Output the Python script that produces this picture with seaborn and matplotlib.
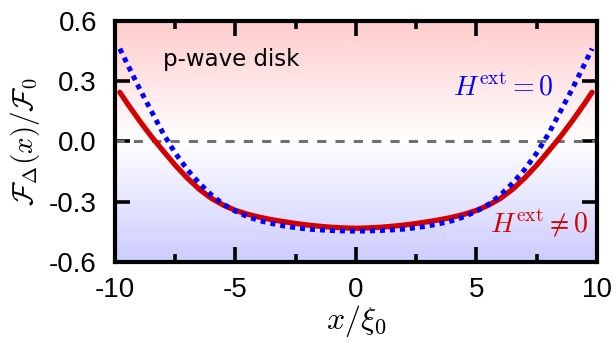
import numpy as np
import pandas as pd
import matplotlib
matplotlib.use("Agg")
import matplotlib.pyplot as plt
from matplotlib.colors import LinearSegmentedColormap
import seaborn as sns

# ---- data ----
x_vals = [-9.8, -9.5, -9.0, -8.5, -8.0, -7.5, -7.0, -6.5, -6.0, -5.5, -5.0, -4.5, -4.0, -3.5, -3.0, -2.5,
          -2.0, -1.5, -1.0, -0.5, 0.0, 0.5, 1.0, 1.5, 2.0, 2.5, 3.0, 3.5, 4.0, 4.5, 5.0, 5.5, 6.0, 6.5,
          7.0, 7.5, 8.0, 8.5, 9.0, 9.5, 9.8]
blue_vals = [0.462, 0.388, 0.267, 0.153, 0.040, -0.058, -0.140, -0.208, -0.266, -0.313, -0.347, -0.374, -0.394,
             -0.408, -0.420, -0.429, -0.436, -0.440, -0.443, -0.445, -0.446, -0.445, -0.443, -0.440, -0.436,
             -0.429, -0.420, -0.408, -0.394, -0.374, -0.347, -0.313, -0.266, -0.208, -0.140, -0.058, 0.040,
             0.153, 0.267, 0.388, 0.462]
red_vals = [0.245, 0.191, 0.106, 0.026, -0.047, -0.118, -0.182, -0.238, -0.283, -0.317, -0.343, -0.362, -0.377,
            -0.389, -0.399, -0.408, -0.416, -0.422, -0.427, -0.430, -0.432, -0.430, -0.427, -0.422, -0.416,
            -0.408, -0.399, -0.389, -0.377, -0.362, -0.343, -0.317, -0.283, -0.238, -0.182, -0.118, -0.047,
            0.026, 0.106, 0.191, 0.245]
x_ticks = [-10, -5, 0, 5, 10]
x_ticklabels = ["-10", "-5", "0", "5", "10"]
y_ticks = [-0.6, -0.3, 0.0, 0.3, 0.6]
y_ticklabels = ["-0.6", "-0.3", "0.0", "0.3", "0.6"]

df = pd.DataFrame({"x": x_vals * 2,
                   "y": blue_vals + red_vals,
                   "series": ["H0"] * len(x_vals) + ["H1"] * len(x_vals)})

sns.set_style("ticks")
plt.rcParams["font.family"] = ["Liberation Sans", "DejaVu Sans"]
plt.rcParams["mathtext.fontset"] = "cm"
plt.rcParams["text.color"] = "black"
plt.rcParams["axes.labelcolor"] = "black"
plt.rcParams["xtick.color"] = "black"
plt.rcParams["ytick.color"] = "black"
plt.rcParams["axes.edgecolor"] = "black"

fig = plt.figure(figsize=(6.16, 3.43), dpi=100)
ax = fig.add_axes([0.1867, 0.236, 0.7823, 0.703])

# background gradient
cmap = LinearSegmentedColormap.from_list("bg", [(0.80, 0.80, 1.0), (1, 1, 1), (1.0, 0.80, 0.80)])
grad = np.linspace(0, 1, 256).reshape(-1, 1)
ax.imshow(grad, extent=[-10, 10, -0.6, 0.6], origin="lower", aspect="auto", cmap=cmap, zorder=0)

ax.axhline(0, color="#707070", lw=2.2, ls=(0, (3, 3)), zorder=1)

sns.lineplot(data=df[df.series == "H0"], x="x", y="y", ax=ax, color="#0000ff", lw=3.6,
             linestyle=(0, (1, 1.0)), zorder=3, legend=False)
sns.lineplot(data=df[df.series == "H1"], x="x", y="y", ax=ax, color="#d40000", lw=3.8,
             zorder=2, legend=False)

ax.set_xlim(-10, 10)
ax.set_ylim(-0.6, 0.6)
ax.set_xticks(x_ticks)
ax.set_xticklabels(x_ticklabels)
ax.set_yticks(y_ticks)
ax.set_yticklabels(y_ticklabels)
ax.set_xticks([-7.5, -2.5, 2.5, 7.5], minor=True)

ax.tick_params(which="both", direction="in", top=True, right=True, width=2.6, labelsize=20)
ax.tick_params(axis="x", which="major", length=11, pad=11)
ax.tick_params(axis="y", which="major", length=11, pad=13)
ax.tick_params(which="minor", length=6)
for s in ax.spines.values():
    s.set_linewidth(3.0)
    s.set_visible(True)

ax.set_xlabel(r"$x/\xi_0$", fontsize=23, labelpad=0)
ax.set_ylabel(r"$\mathcal{F}_\Delta(x)/\mathcal{F}_0$", fontsize=21, labelpad=5)

ax.text(-8.0, 0.41, "p-wave disk", fontsize=16.5, family="DejaVu Sans", va="center", ha="left")
ax.text(8.2, 0.265, r"$H^{\rm ext}=0$", fontsize=20, color="#0000ff", ha="right", va="center")
ax.text(9.65, -0.405, r"$H^{\rm ext}\neq 0$", fontsize=20, color="#d40000", ha="right", va="center")

fig.savefig("out.png", dpi=100)
